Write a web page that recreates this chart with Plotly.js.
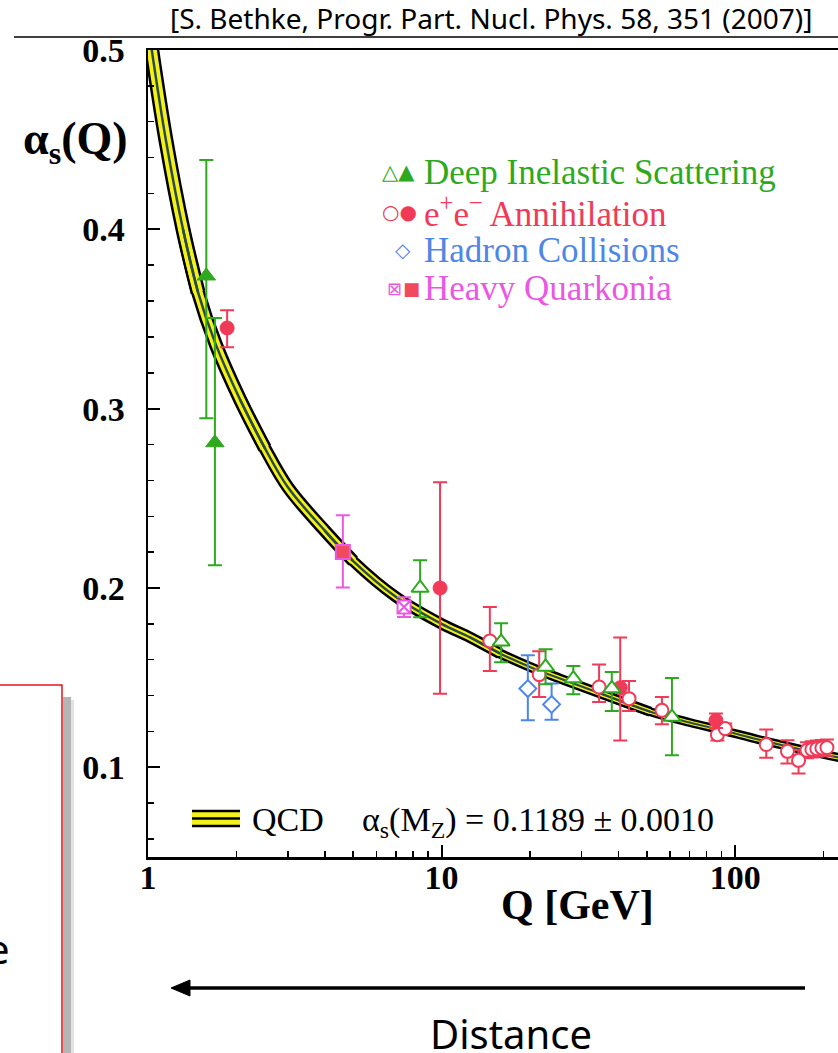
<!DOCTYPE html>
<html>
<head>
<meta charset="utf-8">
<script src="https://cdn.plot.ly/plotly-3.0.1.min.js"></script>
<style>
html,body{margin:0;padding:0;overflow:hidden;background:#fff;}
#chart{width:860px;height:1053px;}
</style>
</head>
<body>
<div id="chart"></div>
<script>
// ---------------- DATA ----------------
// QCD running coupling curve (band centre)
const qcdQ = [1.0, 1.03, 1.15, 1.316, 1.48, 1.7, 2.06, 2.5, 3.0, 4.0, 5.0, 7.0, 10, 12.5, 15.8, 20, 25.3, 35, 51.4, 70, 91, 120, 150, 200, 250];
const qcdA = [0.515, 0.50, 0.45, 0.40, 0.365, 0.336, 0.305, 0.278, 0.256, 0.232, 0.215, 0.195, 0.180, 0.1725, 0.1635, 0.156, 0.1495, 0.141, 0.131, 0.125, 0.1205, 0.1155, 0.1118, 0.1072, 0.104];

// Deep Inelastic Scattering
const disFilledQ  = [1.58, 1.69];
const disFilledA  = [0.374, 0.281];
const disFilledHi = [0.4386, 0.3505];
const disFilledLo = [0.2947, 0.2127];
const disOpenQ  = [8.45, 15.95, 22.6, 28.1, 38.0, 60.9];
const disOpenA  = [0.200, 0.170, 0.156, 0.1495, 0.144, 0.128];
const disOpenHi = [0.2155, 0.1803, 0.1658, 0.1565, 0.1532, 0.1498];
const disOpenLo = [0.1837, 0.1586, 0.1463, 0.1407, 0.1314, 0.1067];

// e+e- Annihilation
const eeFilledQ  = [1.86, 9.88, 40.6, 86];
const eeFilledA  = [0.345, 0.200, 0.1444, 0.1262];
const eeFilledHi = [0.3549, 0.259, 0.1724, 0.130];
const eeFilledLo = [0.3343, 0.141, 0.115, 0.122];
const eeOpenQ  = [14.6, 21.5, 34.4, 43.5, 56.3, 87, 92.5, 127.6, 150.7, 164.4, 175.5, 182.5, 189.8, 197.4, 205.4];
const eeOpenA  = [0.1705, 0.1517, 0.1448, 0.1383, 0.1318, 0.1182, 0.1216, 0.1127, 0.1089, 0.1039, 0.1095, 0.1100, 0.1104, 0.1108, 0.1110];
const eeOpenHi = [0.1894, 0.1647, 0.1573, 0.1482, 0.1392, 0.1215, 0.1245, 0.1211, 0.1151, 0.1095, 0.1140, 0.1145, 0.1149, 0.1153, 0.1155];
const eeOpenLo = [0.1537, 0.1392, 0.1364, 0.1314, 0.1240, 0.1150, 0.1190, 0.1054, 0.1022, 0.0965, 0.1050, 0.1055, 0.1059, 0.1063, 0.1065];

// Hadron Collisions
const hadQ  = [19.67, 23.7];
const hadA  = [0.1439, 0.1351];
const hadHi = [0.1625, 0.1467];
const hadLo = [0.1262, 0.1266];

// Heavy Quarkonia
const hqFilledQ  = [4.61];
const hqFilledA  = [0.2201];
const hqFilledHi = [0.2406];
const hqFilledLo = [0.2003];
const hqOpenQ  = [7.45];
const hqOpenA  = [0.1894];
const hqOpenHi = [0.1949];
const hqOpenLo = [0.1838];

// tick labels
const xTickVals = [1, 10, 100];
const xTickText = ['1', '10', '100'];
const xMinorVals = [2,3,4,5,6,7,8,9,20,30,40,50,60,70,80,90,200];
const yTickVals = [0.1, 0.2, 0.3, 0.4, 0.5];
const yTickText = ['0.1', '0.2', '0.3', '0.4', '0.5'];

// ---------------- STYLE ----------------
const GREEN = '#2ea81f', RED = '#f03a58', BLUE = '#4f86e6', MAGENTA = '#ea58e2', QRED = '#f04a5e';
const SERIF = 'Liberation Serif, Times New Roman, serif';
const SANS = 'Noto Sans, Open Sans, sans-serif';

// plot area in pixels
const L = 148, T = 50, PW = 704, PH = 807, FIGW = 860, FIGH = 1053;
const px = v => (v - L) / PW;
const py = v => (T + PH - v) / PH;

function err(a, hi, lo, color) {
  return {type: 'data', symmetric: false,
          array: hi.map((h, i) => h - a[i]),
          arrayminus: lo.map((l, i) => a[i] - l),
          color: color, thickness: 2, width: 7};
}

const traces = [];
// band pieces (index ranges overlap by one point): [start, end, blackWidth, yellowWidth, centreWidth]
const segs = [[0, 4, 15, 10, 2.5], [3, 7, 14, 9, 2.5], [6, 10, 13, 8, 2.5], [9, 14, 11.5, 6.5, 2.5], [13, 18, 10, 5, 2.2], [17, 24, 9, 4, 2]];
[[2, '#000'], [3, '#f2f21a'], [4, '#2c4a48']].forEach(([k, col]) => {
  segs.forEach(s => {
    traces.push({x: qcdQ.slice(s[0], s[1] + 1), y: qcdA.slice(s[0], s[1] + 1), mode: 'lines',
      line: {color: col, width: s[k], shape: 'spline', smoothing: 1}, hoverinfo: 'skip'});
  });
});

// data
traces.push({x: hadQ, y: hadA, mode: 'markers', error_y: err(hadA, hadHi, hadLo, BLUE),
  marker: {symbol: 'diamond', size: 13, color: '#fff', line: {color: BLUE, width: 2}}});
traces.push({x: eeOpenQ, y: eeOpenA, mode: 'markers', error_y: err(eeOpenA, eeOpenHi, eeOpenLo, RED),
  marker: {symbol: 'circle', size: 13, color: '#fff', line: {color: RED, width: 2}}});
traces.push({x: eeFilledQ, y: eeFilledA, mode: 'markers', error_y: err(eeFilledA, eeFilledHi, eeFilledLo, RED),
  marker: {symbol: 'circle', size: 14, color: RED, line: {color: RED, width: 1}}});
traces.push({x: disOpenQ, y: disOpenA, mode: 'markers', error_y: err(disOpenA, disOpenHi, disOpenLo, GREEN),
  marker: {symbol: 'triangle-up', size: 15, color: '#fff', line: {color: GREEN, width: 2}}});
traces.push({x: disFilledQ, y: disFilledA, mode: 'markers', error_y: err(disFilledA, disFilledHi, disFilledLo, GREEN),
  marker: {symbol: 'triangle-up', size: 16, color: GREEN, line: {color: GREEN, width: 1}}});
traces.push({x: hqOpenQ, y: hqOpenA, mode: 'markers', error_y: err(hqOpenA, hqOpenHi, hqOpenLo, MAGENTA),
  marker: {symbol: 'square-x', size: 13, color: '#fff', line: {color: MAGENTA, width: 2}}});
traces.push({x: hqFilledQ, y: hqFilledA, mode: 'markers', error_y: err(hqFilledA, hqFilledHi, hqFilledLo, MAGENTA),
  marker: {symbol: 'square', size: 14, color: QRED, line: {color: MAGENTA, width: 2}}});

// ---------------- ANNOTATIONS ----------------
const ann = [];
function txt(text, x, y, size, color, family, xanchor, extra) {
  ann.push(Object.assign({text: text, xref: 'paper', yref: 'paper', x: px(x), y: py(y),
    xanchor: xanchor || 'center', yanchor: 'middle', showarrow: false,
    font: {family: family || SERIF, size: size, color: color || '#000'}}, extra || {}));
}
txt('[S. Bethke, Progr. Part. Nucl. Phys. 58, 351 (2007)]', 491, 18, 28, '#000', SANS);
txt('<b>α<sub>s</sub>(Q)</b>', 75, 142, 46);
// legend
txt('Deep Inelastic Scattering', 422, 172, 35, GREEN, SERIF, 'left');
txt('e<sup>+</sup>e<sup>−</sup> Annihilation', 422, 212, 35, RED, SERIF, 'left');
txt('Hadron Collisions', 422, 250, 35, BLUE, SERIF, 'left');
txt('Heavy Quarkonia', 422, 288, 35, MAGENTA, SERIF, 'left');
txt('△▲', 417, 172, 21, GREEN, 'DejaVu Sans', 'right');
txt('○●', 419, 212, 20, RED, 'DejaVu Sans', 'right');
txt('◇', 403, 250, 20, BLUE, 'DejaVu Sans');
txt('⊠', 394, 288, 18, MAGENTA, 'DejaVu Sans');
txt('■', 411, 288, 18, QRED, 'DejaVu Sans');
// QCD legend
txt('QCD', 250, 819, 34, '#000', SERIF, 'left');
txt('α<sub>s</sub>(M<sub>Z</sub>) = 0.1189 ± 0.0010', 360, 822, 34, '#000', SERIF, 'left');
// axis title
txt('<b>Q [GeV]</b>', 577, 905, 42);
// bottom
txt('Distance', 511, 1033, 40, '#000', SANS);
txt('e', 12, 948, 40, '#000', SANS, 'right');

// ---------------- SHAPES ----------------
const shapes = [];
function rect(x0, y0, x1, y1, fill, lineColor, lw) {
  shapes.push({type: 'rect', xref: 'paper', yref: 'paper', x0: px(x0), x1: px(x1), y0: py(y0), y1: py(y1),
    fillcolor: fill, line: {color: lineColor || 'rgba(0,0,0,0)', width: lw || 0}, layer: 'above'});
}
function hline(x0, x1, y, color, w) {
  shapes.push({type: 'line', xref: 'paper', yref: 'paper', x0: px(x0), x1: px(x1), y0: py(y), y1: py(y),
    line: {color: color, width: w}, layer: 'above'});
}
// citation underline
hline(14, 860, 37, '#000', 1.5);
// QCD legend band symbol
rect(192, 811, 240, 826, '#f2f21a');
hline(192, 240, 811, '#000', 2.5);
hline(192, 240, 818.5, '#000', 2.5);
hline(192, 240, 826, '#000', 2.5);
// arrow
hline(805, 185, 988, '#000', 3.5);
shapes.push({type: 'path', xref: 'paper', yref: 'paper', layer: 'above',
  path: 'M ' + px(171) + ',' + py(988) + ' L ' + px(190) + ',' + py(980) + ' L ' + px(190) + ',' + py(996) + ' Z',
  fillcolor: '#000', line: {color: '#000', width: 1}});
// red box with shadow
rect(63, 697, 71, 1060, '#b5b5b5');
rect(71, 700, 74, 1060, '#e2e2e2');
rect(-10, 685, 62, 1070, 'rgba(0,0,0,0)', '#e8141c', 1.5);

const layout = {
  width: FIGW, height: FIGH,
  margin: {l: L, r: FIGW - L - PW, t: T, b: FIGH - T - PH},
  paper_bgcolor: '#fff', plot_bgcolor: '#fff',
  showlegend: false,
  xaxis: {type: 'log', range: [0, Math.log10(250)], showgrid: false, zeroline: false,
    showline: true, linecolor: '#000', linewidth: 2.5, mirror: true,
    ticks: 'inside', ticklen: 12, tickwidth: 2, tickcolor: '#000',
    tickvals: xTickVals, ticktext: xTickText.map(t => '<b>' + t + '</b>'),
    tickfont: {family: SERIF, size: 34, color: '#000'}, ticklabelstandoff: -11,
    minor: {tickvals: xMinorVals, ticks: 'inside', ticklen: 6, tickwidth: 1.5, tickcolor: '#000', showgrid: false}},
  yaxis: {range: [0.05, 0.5], showgrid: false, zeroline: false,
    showline: true, linecolor: '#000', linewidth: 2.5, mirror: true,
    ticks: 'inside', ticklen: 12, tickwidth: 2, tickcolor: '#000',
    tickvals: yTickVals, ticktext: yTickText.map(t => '<b>' + t + '</b>'),
    tickfont: {family: SERIF, size: 34, color: '#000'}, ticklabelstandoff: 14,
    minor: {dtick: 0.02, tick0: 0, ticks: 'inside', ticklen: 6, tickwidth: 1.5, tickcolor: '#000', showgrid: false}},
  annotations: ann,
  shapes: shapes
};

Plotly.newPlot('chart', traces, layout, {staticPlot: true, displayModeBar: false});
</script>
</body>
</html>
